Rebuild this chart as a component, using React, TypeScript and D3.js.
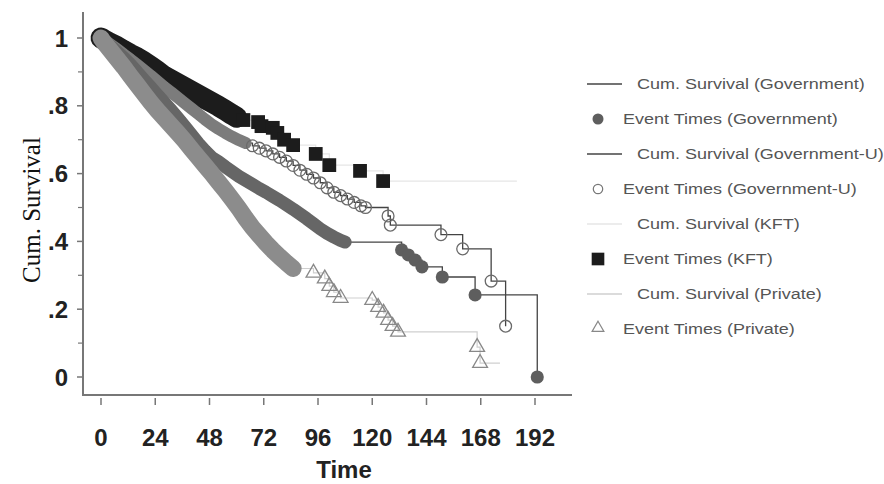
import * as d3 from "d3";

type Pt = [number, number];

// time axis ticks (months)
const xTicks = [0, 24, 48, 72, 96, 120, 144, 168, 192];
const yTicks = [0, 0.2, 0.4, 0.6, 0.8, 1];
const yTickLabels = ["0", ".2", ".4", ".6", ".8", "1"];
const yMinor = [0.1, 0.3, 0.5, 0.7, 0.9];

// Government: dense event region (markers merge into a ribbon), then sparse events
const govDense: Pt[] = [
  [0, 1], [1, 0.995], [4, 0.978], [7, 0.96], [10, 0.942], [13, 0.922], [16, 0.9],
  [19, 0.877], [22, 0.855], [25, 0.832], [28, 0.81], [31, 0.788], [34, 0.764],
  [37, 0.74], [40, 0.715], [43, 0.69], [46, 0.668], [49, 0.648], [52, 0.635],
  [55, 0.62], [58, 0.606], [61, 0.592], [64, 0.58], [67, 0.568], [70, 0.556],
  [73, 0.545], [76, 0.533], [79, 0.521], [82, 0.508], [85, 0.495], [88, 0.481],
  [91, 0.467], [94, 0.452], [97, 0.437], [100, 0.424], [103, 0.413], [106, 0.403],
  [108, 0.398],
];
const govEvents: Pt[] = [
  [133, 0.375], [136, 0.36], [139, 0.345], [142, 0.325], [151, 0.295],
  [165.5, 0.242], [193, 0],
];

// Government-U
const govUDense: Pt[] = [
  [0, 1], [1, 0.996], [4, 0.982], [7, 0.968], [10, 0.952], [13, 0.937], [16, 0.921],
  [19, 0.905], [22, 0.889], [25, 0.872], [28, 0.855], [31, 0.84], [34, 0.824],
  [37, 0.808], [40, 0.792], [43, 0.776], [46, 0.76], [49, 0.745], [52, 0.732],
  [55, 0.72], [58, 0.709], [61, 0.699], [64, 0.69],
];
const govUEvents: Pt[] = [
  [67, 0.682], [70, 0.675], [73, 0.667], [76, 0.658], [79, 0.648], [82, 0.637],
  [85, 0.624], [88, 0.61], [91, 0.598], [94, 0.587], [97, 0.573], [100, 0.558],
  [103, 0.545], [106, 0.535], [109, 0.525], [112, 0.515], [115, 0.505], [117, 0.5],
  [127, 0.475], [128, 0.448], [150.4, 0.42], [160, 0.378], [172.6, 0.283], [179, 0.15],
];

// KFT
const kftDense: Pt[] = [
  [0, 1], [1, 0.996], [4, 0.985], [7, 0.975], [10, 0.963], [13, 0.952], [16, 0.942],
  [19, 0.93], [22, 0.916], [25, 0.902], [28, 0.887], [31, 0.876], [34, 0.865],
  [37, 0.854], [40, 0.843], [43, 0.832], [46, 0.821], [49, 0.81], [52, 0.799],
  [55, 0.787], [58, 0.774], [60, 0.766],
];
const kftEvents: Pt[] = [
  [63, 0.758], [69.5, 0.752], [71, 0.74], [76, 0.735], [78, 0.72], [81, 0.7],
  [85, 0.684], [95, 0.658], [101, 0.625], [114.6, 0.608], [124.8, 0.578],
];
const kftLastTime = 184;

// Private
const privDense: Pt[] = [
  [0, 1], [1, 0.99], [4, 0.965], [7, 0.94], [10, 0.915], [13, 0.888], [16, 0.862],
  [19, 0.836], [22, 0.81], [25, 0.786], [28, 0.764], [31, 0.742], [34, 0.72],
  [37, 0.697], [40, 0.672], [43, 0.648], [46, 0.624], [49, 0.6], [52, 0.575],
  [55, 0.55], [58, 0.524], [61, 0.497], [64, 0.468], [67, 0.441], [70, 0.418],
  [73, 0.395], [76, 0.374], [79, 0.355], [82, 0.337], [85, 0.32],
];
const privEvents: Pt[] = [
  [94, 0.307], [99, 0.29], [101, 0.268], [103, 0.25], [106, 0.233], [120, 0.227],
  [122.6, 0.206], [125, 0.189], [127, 0.168], [129, 0.15], [131.4, 0.133],
  [166.4, 0.088], [167.7, 0.041],
];
const privLastTime = 176.5;

const legendItems = [
  { label: "Cum. Survival (Government)", kind: "line", color: "#444" },
  { label: "Event Times (Government)", kind: "circle", color: "#5e5e5e" },
  { label: "Cum. Survival (Government-U)", kind: "line", color: "#444" },
  { label: "Event Times (Government-U)", kind: "open", color: "#777" },
  { label: "Cum. Survival (KFT)", kind: "line", color: "#e6e6e6" },
  { label: "Event Times (KFT)", kind: "square", color: "#1c1c1c" },
  { label: "Cum. Survival (Private)", kind: "line", color: "#cfcfcf" },
  { label: "Event Times (Private)", kind: "triangle", color: "#888" },
];

export default function App() {
  const x = d3.scaleLinear().domain([0, 192]).range([101, 535]);
  const y = d3.scaleLinear().domain([0, 1]).range([377, 38]);

  const ribbon = d3.line<Pt>().x((d) => x(d[0])).y((d) => y(d[1]));
  const step = d3
    .line<Pt>()
    .x((d) => x(d[0]))
    .y((d) => y(d[1]))
    .curve(d3.curveStepAfter);

  const govLine = step([...govDense, ...govEvents]) || "";
  const govULine = step([...govUDense, ...govUEvents]) || "";
  const kftLine = step([...kftDense, ...kftEvents, [kftLastTime, kftEvents[kftEvents.length - 1][1]]]) || "";
  const privLine = step([...privDense, ...privEvents, [privLastTime, privEvents[privEvents.length - 1][1]]]) || "";

  const circle = d3.symbol().type(d3.symbolCircle).size(135)() || "";
  const openCircle = d3.symbol().type(d3.symbolCircle).size(110)() || "";
  const square = d3.symbol().type(d3.symbolSquare).size(190)() || "";
  const triangle = d3.symbol().type(d3.symbolTriangle).size(95)() || "";

  const lgCircle = d3.symbol().type(d3.symbolCircle).size(95)() || "";
  const lgOpen = d3.symbol().type(d3.symbolCircle).size(70)() || "";
  const lgSquare = d3.symbol().type(d3.symbolSquare).size(160)() || "";
  const lgTriangle = d3.symbol().type(d3.symbolTriangle).size(60)() || "";

  const axisColor = "#777";
  const font = "'Liberation Sans', Arial, sans-serif";

  return (
    <svg width={884} height={484} style={{ position: "absolute", left: 0, top: 0, background: "#fff" }}>
      {/* axes */}
      <line x1={83} x2={83} y1={12} y2={396} stroke={axisColor} strokeWidth={2} />
      <line x1={82} x2={572} y1={395} y2={395} stroke={axisColor} strokeWidth={2} />
      {yTicks.map((t, i) => (
        <g key={"yt" + t}>
          <line x1={77} x2={83} y1={y(t)} y2={y(t)} stroke={axisColor} strokeWidth={1.5} />
          <text x={68} y={y(t)} dy="0.36em" textAnchor="end" fontFamily={font} fontWeight="bold" fontSize={24} fill="#222">
            {yTickLabels[i]}
          </text>
        </g>
      ))}
      {yMinor.map((t) => (
        <line key={"ym" + t} x1={78} x2={83} y1={y(t)} y2={y(t)} stroke={axisColor} strokeWidth={1.2} />
      ))}
      {xTicks.map((t) => (
        <g key={"xt" + t}>
          <line x1={x(t)} x2={x(t)} y1={398} y2={405} stroke={axisColor} strokeWidth={1.5} />
          <text x={x(t)} y={446} textAnchor="middle" fontFamily={font} fontWeight="bold" fontSize={24} fill="#222">
            {t}
          </text>
        </g>
      ))}
      <text x={344} y={478} textAnchor="middle" fontFamily={font} fontWeight="bold" fontSize={24} fill="#222">
        Time
      </text>
      <text
        transform="translate(40,210) rotate(-90)"
        textAnchor="middle"
        fontFamily="'Liberation Serif', 'Times New Roman', serif"
        fontSize={25}
        fill="#111"
      >
        Cum. Survival
      </text>

      {/* survival step lines */}
      <path d={kftLine} fill="none" stroke="#e6e6e6" strokeWidth={1.2} />
      <path d={privLine} fill="none" stroke="#cfcfcf" strokeWidth={1.2} />
      <path d={govULine} fill="none" stroke="#444" strokeWidth={1.3} />
      <path d={govLine} fill="none" stroke="#444" strokeWidth={1.3} />

      {/* dense event ribbons */}
      <path d={ribbon(kftDense) || ""} fill="none" stroke="#1c1c1c" strokeWidth={21} strokeLinecap="round" strokeLinejoin="round" />
      <path d={ribbon(govUDense) || ""} fill="none" stroke="#7c7c7c" strokeWidth={12} strokeLinecap="round" strokeLinejoin="round" />
      <path d={ribbon(govDense) || ""} fill="none" stroke="#666" strokeWidth={13} strokeLinecap="round" strokeLinejoin="round" />
      <path d={ribbon(privDense) || ""} fill="none" stroke="#8c8c8c" strokeWidth={17} strokeLinecap="round" strokeLinejoin="round" />

      {/* sparse event markers */}
      {govEvents.map((d, i) => (
        <path key={"ge" + i} d={circle} transform={`translate(${x(d[0])},${y(d[1])})`} fill="#5e5e5e" />
      ))}
      {privEvents.map((d, i) => (
        <path key={"pe" + i} d={triangle} transform={`translate(${x(d[0])},${y(d[1])})`} fill="none" stroke="#888" strokeWidth={1.3} />
      ))}
      {kftEvents.map((d, i) => (
        <path key={"ke" + i} d={square} transform={`translate(${x(d[0])},${y(d[1])})`} fill="#1c1c1c" />
      ))}
      {govUEvents.map((d, i) => (
        <path key={"ue" + i} d={openCircle} transform={`translate(${x(d[0])},${y(d[1])})`} fill="none" stroke="#6a6a6a" strokeWidth={1.3} />
      ))}

      {/* legend */}
      {legendItems.map((it, i) => {
        const ly = 84 + i * 35;
        const tx = it.kind === "line" ? 637 : 623;
        return (
          <g key={"lg" + i}>
            {it.kind === "line" && <line x1={587} x2={622} y1={ly} y2={ly} stroke={it.color} strokeWidth={1.5} />}
            {it.kind === "circle" && <path d={lgCircle} transform={`translate(598,${ly})`} fill={it.color} />}
            {it.kind === "open" && <path d={lgOpen} transform={`translate(598,${ly})`} fill="#fff" stroke={it.color} strokeWidth={1.2} />}
            {it.kind === "square" && <path d={lgSquare} transform={`translate(598,${ly})`} fill={it.color} />}
            {it.kind === "triangle" && <path d={lgTriangle} transform={`translate(598,${ly - 1})`} fill="#fff" stroke={it.color} strokeWidth={1.2} />}
            <g transform={`translate(${tx},${ly}) scale(1.2,1)`}>
              <text x={0} y={0} dy="0.35em" fontFamily={font} fontSize={15} fill="#555">
                {it.label}
              </text>
            </g>
          </g>
        );
      })}
    </svg>
  );
}
